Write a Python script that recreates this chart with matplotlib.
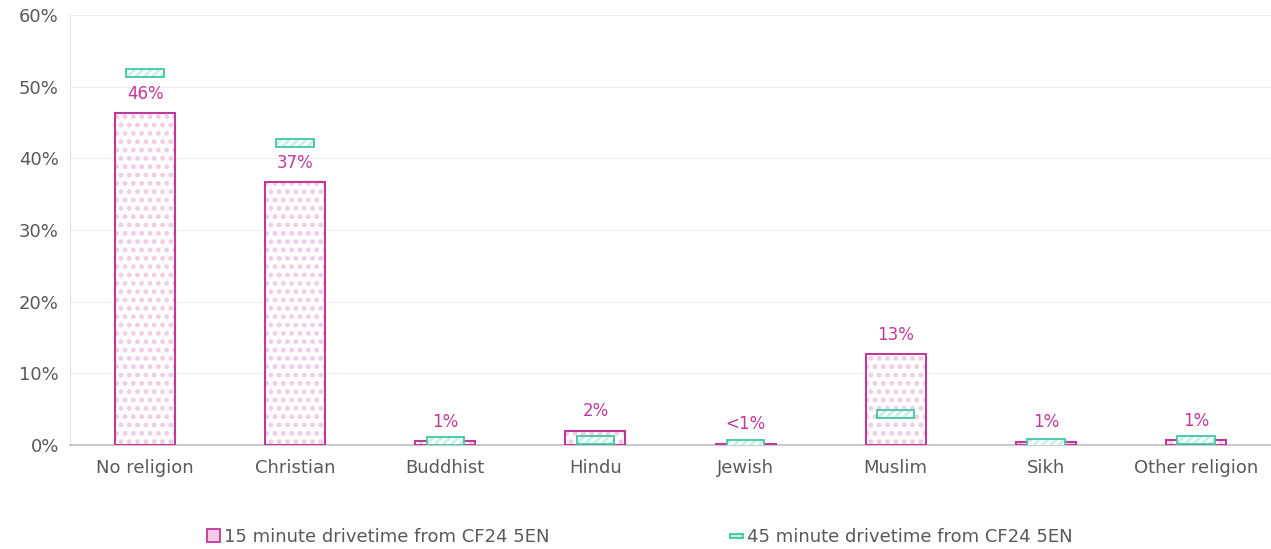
import matplotlib
matplotlib.use("Agg")
import matplotlib.pyplot as plt
from matplotlib.patches import Patch
import numpy as np

categories = ["No religion", "Christian", "Buddhist", "Hindu", "Jewish", "Muslim", "Sikh", "Other religion"]
drive15 = [46.3, 36.7, 0.5, 2.0, 0.15, 12.7, 0.45, 0.7]
drive45 = [51.9, 42.2, 0.5, 0.7, 0.15, 4.3, 0.3, 0.7]
labels15 = ["46%", "37%", "1%", "2%", "<1%", "13%", "1%", "1%"]
series_names = ["15 minute drivetime from CF24 5EN", "45 minute drivetime from CF24 5EN"]

MAG = "#c0399a"
PINK = "#f2cbe5"
TEAL = "#3ec7a6"
TEAL_FILL = "#c9f0e5"
GRAY_TXT = "#595959"

plt.rcParams["font.family"] = ["DejaVu Sans"]
plt.rcParams["hatch.linewidth"] = 2.2

fig = plt.figure(figsize=(12.71, 5.49), dpi=100)
ax = fig.add_axes([70/1271, 1 - 445/549, 1201/1271, 430/549])

x = np.arange(len(categories))
# texture bars
ax.bar(x, drive15, width=0.4, color="white", edgecolor=PINK, linewidth=0, hatch="..", zorder=2)
ax.bar(x, drive15, width=0.4, facecolor="none", edgecolor=MAG, linewidth=1.5, zorder=3)

# 45 min markers as small floating boxes
mh = 1.1
ax.bar(x, [mh]*len(x), bottom=np.array(drive45) - mh/2, width=0.25, color=TEAL_FILL,
       edgecolor="white", linewidth=0, hatch="////", zorder=4)
ax.bar(x, [mh]*len(x), bottom=np.array(drive45) - mh/2, width=0.25, facecolor="none",
       edgecolor=TEAL, linewidth=1.3, zorder=5)

for xi, v, lab in zip(x, drive15, labels15):
    ax.annotate(lab, (xi, v), xytext=(0, 14), textcoords="offset points",
                ha="center", va="center", color=MAG, fontsize=12, zorder=6)

ax.set_xlim(-0.5, len(categories) - 0.5)
ax.set_ylim(0, 60)
ax.set_yticks(range(0, 61, 10))
ax.set_yticklabels([f"{t}%" for t in range(0, 61, 10)])
ax.set_xticks(x)
ax.set_xticklabels(categories)
ax.tick_params(axis="both", length=0, labelsize=13, labelcolor=GRAY_TXT)
ax.tick_params(axis="x", pad=10)
ax.tick_params(axis="y", pad=8)
ax.grid(axis="y", color="#eeeeee", linewidth=0.8, zorder=0)
ax.set_axisbelow(True)
for s in ["top", "right"]:
    ax.spines[s].set_visible(False)
ax.spines["left"].set_color("#e3e3e3")
ax.spines["bottom"].set_color("#bfbfbf")
ax.spines["bottom"].set_linewidth(1.2)

h1 = Patch(facecolor=PINK, edgecolor=MAG, linewidth=1.3)
h2 = Patch(facecolor=TEAL_FILL, edgecolor=TEAL, linewidth=1.3)
leg = fig.legend([h1, h2], series_names, loc="center", bbox_to_anchor=(640/1271, 1 - 537/549),
                 ncol=2, frameon=False, fontsize=13, columnspacing=10, handlelength=0.7,
                 handleheight=0.7, handletextpad=0.25, labelcolor=GRAY_TXT)
# make the second legend handle a flat bar
p = leg.get_patches()[1]
p.set_height(p.get_height() * 0.3)
p.set_y(p.get_y() + p.get_height())

fig.savefig("out.png", dpi=100)
